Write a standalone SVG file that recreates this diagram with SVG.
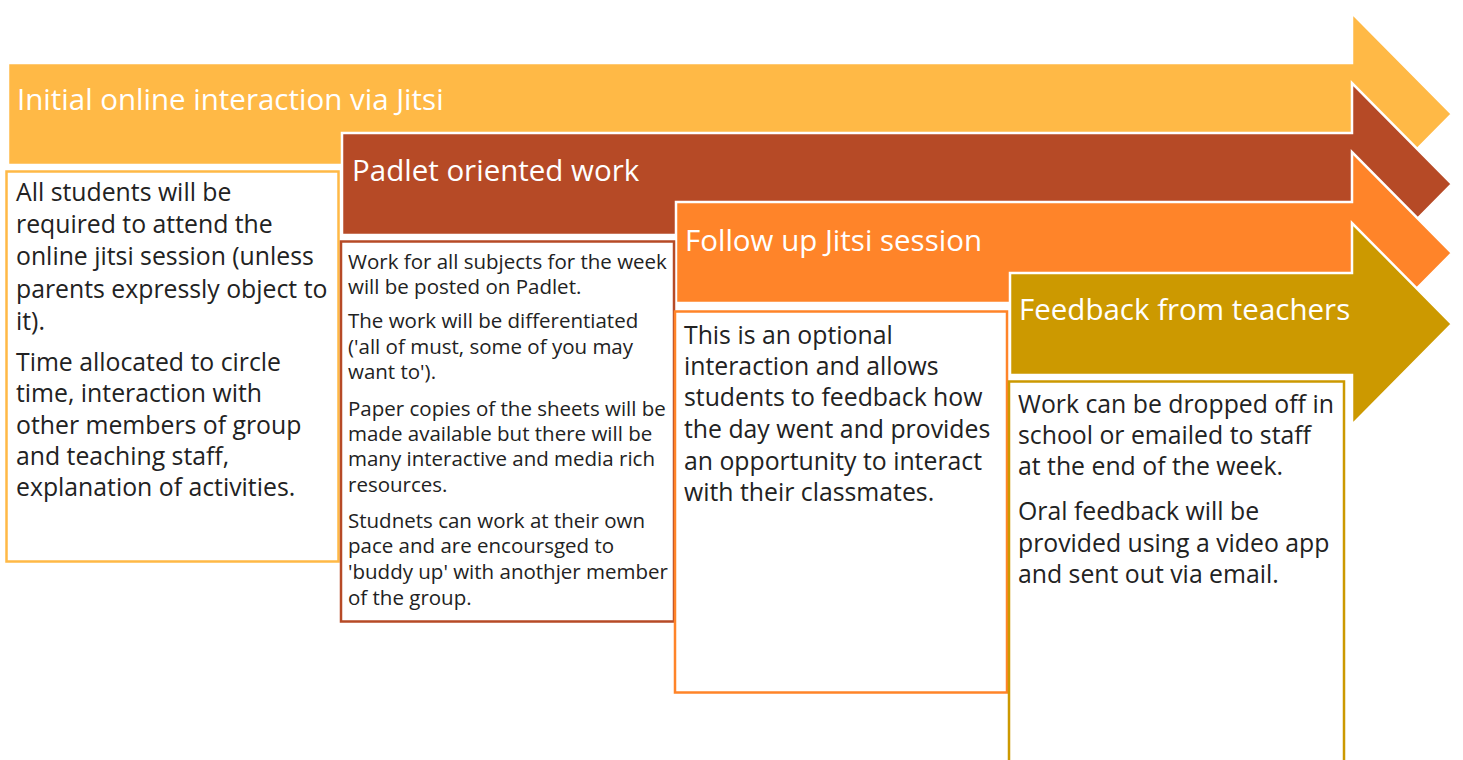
<svg xmlns="http://www.w3.org/2000/svg" width="1463" height="760" viewBox="0 0 1463 760">
<style>
.arrow{stroke:#ffffff;stroke-width:2.5;stroke-linejoin:miter}
.box{fill:#ffffff;stroke-width:2.5}
.title{font-family:"Open Sans","Noto Sans","DejaVu Sans",sans-serif;font-size:29.5px;fill:#ffffff}
.big{font-family:"Open Sans","Noto Sans","DejaVu Sans",sans-serif;font-size:24.8px;fill:#222222}
.small{font-family:"Open Sans","Noto Sans","DejaVu Sans",sans-serif;font-size:20.5px;fill:#222222}
</style>
<rect width="1463" height="760" fill="#ffffff"/>

<g id="step1">
<polygon class="arrow" fill="#FFB946" points="8,63 1352,63 1352,13 1452,114 1352,215 1352,165 8,165"/>
<text class="title" x="17" y="110">Initial online interaction via Jitsi</text>
</g>
<g id="step2">
<polygon class="arrow" fill="#B64A26" points="342,133 1352,133 1352,83 1452,184 1352,285 1352,235 342,235"/>
<text class="title" x="352" y="181">Padlet oriented work</text>
</g>
<g id="step3">
<polygon class="arrow" fill="#FF8429" points="676,202 1352,202 1352,152 1452,253 1352,354 1352,303 676,303"/>
<text class="title" x="685" y="251">Follow up Jitsi session</text>
</g>
<g id="step4">
<polygon class="arrow" fill="#CC9900" points="1010,273 1352,273 1352,223 1452,324 1352,425 1352,375 1010,375"/>
<text class="title" x="1019" y="320">Feedback from teachers</text>
</g>

<g id="box1">
<rect class="box" stroke="#FFB946" x="6.5" y="171.5" width="332" height="390"/>
<text class="big" x="16">
<tspan x="16" y="201">All students will be</tspan>
<tspan x="16" y="233">required to attend the</tspan>
<tspan x="16" y="265">online jitsi session (unless</tspan>
<tspan x="16" y="298">parents expressly object to</tspan>
<tspan x="16" y="330">it).</tspan>
<tspan x="16" y="371">Time allocated to circle</tspan>
<tspan x="16" y="402">time, interaction with</tspan>
<tspan x="16" y="434">other members of group</tspan>
<tspan x="16" y="465">and teaching staff,</tspan>
<tspan x="16" y="496">explanation of activities.</tspan>
</text>
</g>
<g id="box2">
<rect class="box" stroke="#B64A26" x="341" y="241.5" width="333" height="380"/>
<text class="small" x="348">
<tspan x="348" y="269">Work for all subjects for the week</tspan>
<tspan x="348" y="294">will be posted on Padlet.</tspan>
<tspan x="348" y="328">The work will be differentiated</tspan>
<tspan x="348" y="354">('all of must, some of you may</tspan>
<tspan x="348" y="379">want to').</tspan>
<tspan x="348" y="416">Paper copies of the sheets will be</tspan>
<tspan x="348" y="441">made available but there will be</tspan>
<tspan x="348" y="466">many interactive and media rich</tspan>
<tspan x="348" y="492">resources.</tspan>
<tspan x="348" y="528">Studnets can work at their own</tspan>
<tspan x="348" y="553">pace and are encoursged to</tspan>
<tspan x="348" y="579">'buddy up' with anothjer member</tspan>
<tspan x="348" y="605">of the group.</tspan>
</text>
</g>
<g id="box3">
<rect class="box" stroke="#FF8429" x="675" y="311.5" width="332" height="381"/>
<text class="big" x="684">
<tspan x="684" y="344">This is an optional</tspan>
<tspan x="684" y="375">interaction and allows</tspan>
<tspan x="684" y="406">students to feedback how</tspan>
<tspan x="684" y="438">the day went and provides</tspan>
<tspan x="684" y="470">an opportunity to interact</tspan>
<tspan x="684" y="501">with their classmates.</tspan>
</text>
</g>
<g id="box4">
<rect class="box" stroke="#CC9900" x="1009" y="381.5" width="335" height="395"/>
<text class="big" x="1018">
<tspan x="1018" y="413">Work can be dropped off in</tspan>
<tspan x="1018" y="444">school or emailed to staff</tspan>
<tspan x="1018" y="475">at the end of the week.</tspan>
<tspan x="1018" y="520">Oral feedback will be</tspan>
<tspan x="1018" y="552">provided using a video app</tspan>
<tspan x="1018" y="583">and sent out via email.</tspan>
</text>
</g>
</svg>
